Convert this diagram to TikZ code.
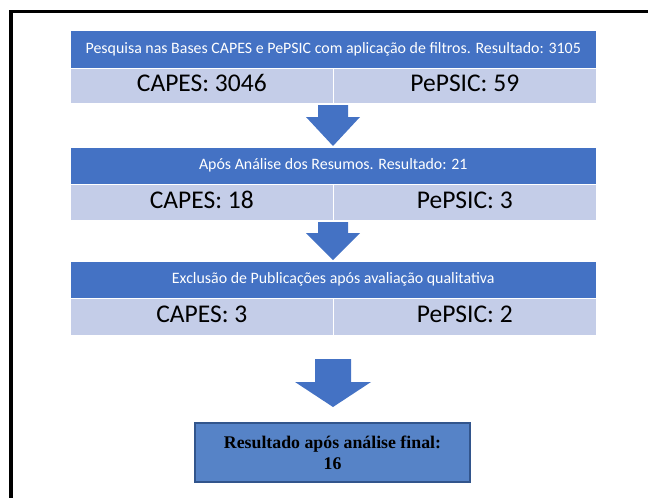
\documentclass[tikz,border=0pt]{standalone}
\usepackage{fontspec}
\setmainfont{Carlito}
\newfontfamily\timesfont{Liberation Serif}
\usetikzlibrary{calc}
\definecolor{hdr}{RGB}{68,114,196}
\definecolor{lite}{RGB}{196,205,232}
\definecolor{fin}{RGB}{86,131,199}
\definecolor{finb}{RGB}{50,85,140}
\tikzset{
  hdrbox/.style={fill=hdr, draw=white, line width=0.6pt, text=white, inner sep=0pt,
    minimum width=526pt, anchor=north west, font=\fontsize{15.9}{18}\selectfont,
    text height=11pt, text depth=3pt},
  cellbox/.style={fill=lite, draw=white, line width=0.6pt, text=black, inner sep=0pt,
    minimum width=263pt, anchor=north west, font=\fontsize{25.5}{28}\selectfont,
    text height=17pt, text depth=5pt},
  blockarrow/.style={fill=hdr},
  finalbox/.style={fill=fin, draw=finb, line width=2pt, inner sep=0pt,
    minimum width=275pt, minimum height=59pt, align=center,
    font=\timesfont\bfseries\fontsize{17.8}{21}\selectfont}
}
\begin{document}
\begin{tikzpicture}[x=1pt,y=-1pt]
\useasboundingbox (0,0) rectangle (648,498);
% outer frame (only left and top visible)
\draw[line width=3.5pt] (11,498) -- (11,11.5) -- (648,11.5);

% table 1
\node[hdrbox, minimum height=38pt] (h1) at (70,30) {Pesquisa nas Bases CAPES e PePSIC com aplicação de filtros. Resultado: 3105};
\node[cellbox, minimum height=35pt] (l1) at (70,68) {CAPES: 3046};
\node[cellbox, minimum height=35pt] (r1) at (333,68) {PePSIC: 59};

% table 2
\node[hdrbox, minimum height=37pt] (h2) at (70,147) {Após Análise dos Resumos. Resultado: 21};
\node[cellbox, minimum height=36pt] (l2) at (70,184) {CAPES: 18};
\node[cellbox, minimum height=36pt] (r2) at (333,184) {PePSIC: 3};

% table 3
\node[hdrbox, minimum height=37pt] (h3) at (70,261) {Exclusão de Publicações após avaliação qualitativa};
\node[cellbox, minimum height=37pt] (l3) at (70,298) {CAPES: 3};
\node[cellbox, minimum height=37pt] (r3) at (333,298) {PePSIC: 2};

% final box
\node[finalbox] (fb) at (332.5,452.5) {Resultado após análise final:\\16};

% block arrows
\coordinate (a1t) at (333,105);
\coordinate (a1b) at (333,146);
\fill[blockarrow] ($(a1t)+(-15,0)$) -- ($(a1t)+(15,0)$) -- ($(a1t)+(15,12)$) -- ($(a1t)+(27,12)$)
  -- (a1b) -- ($(a1t)+(-27,12)$) -- ($(a1t)+(-15,12)$) -- cycle;
\coordinate (a2t) at (333,222);
\coordinate (a2b) at (333,260);
\fill[blockarrow] ($(a2t)+(-15,0)$) -- ($(a2t)+(15,0)$) -- ($(a2t)+(15,11)$) -- ($(a2t)+(27,11)$)
  -- (a2b) -- ($(a2t)+(-27,11)$) -- ($(a2t)+(-15,11)$) -- cycle;
\coordinate (a3t) at (333,359);
\coordinate (a3b) at (333,407);
\fill[blockarrow] ($(a3t)+(-18,0)$) -- ($(a3t)+(18,0)$) -- ($(a3t)+(18,23)$) -- ($(a3t)+(38,23)$)
  -- (a3b) -- ($(a3t)+(-38,23)$) -- ($(a3t)+(-18,23)$) -- cycle;
\end{tikzpicture}
\end{document}
